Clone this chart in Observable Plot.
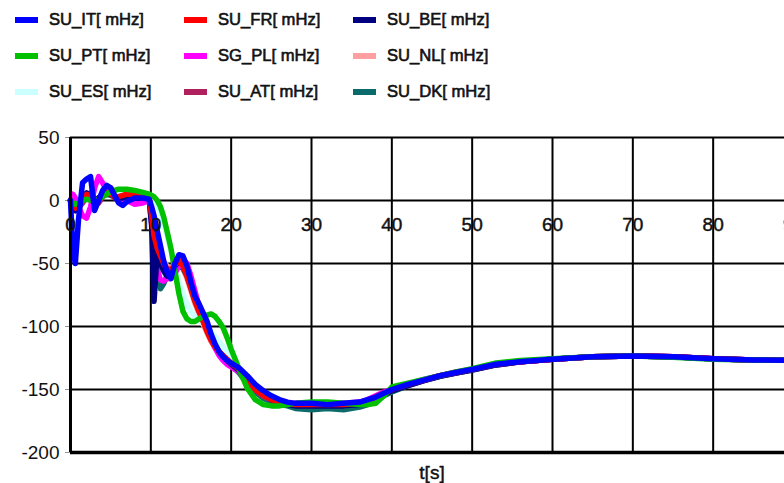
<!DOCTYPE html>
<html><head><meta charset="utf-8">
<script src="https://cdn.jsdelivr.net/npm/d3@7"></script>
<script src="https://cdn.jsdelivr.net/npm/@observablehq/plot@0.6"></script>
<style>
html,body{margin:0;padding:0;background:#fff;overflow:hidden;width:784px;height:483px;}
#legend{position:relative;height:118px;font-family:"Liberation Sans",Arial,sans-serif;font-size:16.6px;color:#111;-webkit-text-stroke:0.6px #111;}
.item{position:absolute;white-space:nowrap;line-height:20px;}
.sw{position:absolute;width:23px;height:6px;}
#chart svg{display:block;max-width:none;}
</style></head><body>
<div id="legend"></div><div id="chart"></div>
<script>
// ---------- data ----------
const time = [0,0.3,0.6,1,1.5,2,2.5,3,3.5,4,4.5,5,5.5,6,6.5,7,8,9,9.8,
  10.1,10.4,10.8,11.2,11.6,12,12.5,13,13.5,14,14.5,15,15.5,16,16.5,17,17.5,18,18.5,19,19.5,20,
  21,22,23,24,25,26,27,28,30,32,34,36,37,38,39,40,
  42,44,46,48,50,53,56,60,65,70,75,80,85,90];

const SU_IT = [0,-40,-50,-15,14,17,19,-8,0,8,12,10,4,-2,-4,-1,2,2,1,
  -5,-12,-24,-36,-48,-56,-62,-50,-43,-44,-52,-65,-76,-82,-89,-96,-106,-114,-120,-124,-127,-129,
  -133,-139,-146,-151,-155,-158,-160,-161,-161,-162,-161,-160,-158,-156,-153,-150,
  -146,-142.5,-139,-136.5,-134,-130,-128,-126,-124,-123.5,-124,-125.5,-126.5,-127];
const SU_FR = [0,-3,-6,-3,2,5,3,-1,1,4,6,5,3,3,4,5,5,4,2,
  -12,-28,-38,-44,-50,-54,-55,-51,-48,-52,-60,-70,-80,-88,-96,-104,-111,-116,-120,-123,-126,-129,
  -134,-142,-150,-155,-158,-160,-161,-162,-162,-162,-162,-161,-159,-156,-153,-150,
  -146,-142.5,-139,-136.5,-134,-130,-128,-126,-124,-123.5,-124,-125.5,-126.5,-127];
const SU_BE = [0,-5,-8,-4,3,6,4,0,2,5,6,5,3,2,2,3,4,3,1,
  -20,-80,-40,-50,-56,-60,-58,-52,-48,-50,-58,-68,-78,-86,-94,-102,-109,-115,-120,-124,-127,-130,
  -135,-142,-149,-154,-158,-160,-162,-163,-163,-163,-163,-162,-160,-157,-154,-151,
  -147,-143,-139.5,-137,-134.5,-130.5,-128,-126,-124,-123.5,-124,-125.5,-126.5,-127];
const SU_PT = [0,-2,-3,-2,0,1,0,-1,1,3,5,7,8,9,9,9,8,6.5,5,
  4,3,0,-5,-13,-24,-38,-56,-74,-88,-94,-96,-96,-94,-92,-91,-90,-92,-96,-101,-109,-118,
  -134,-149,-158,-162,-163,-163,-162,-161,-160,-160,-161,-162,-162,-161,-155,-148,
  -145,-142,-139,-136,-133.5,-129,-127,-125.5,-124,-123.5,-124.5,-126,-126.5,-127];
const SG_PL = [0,5,2,-5,-12,-14,-5,10,19,14,8,10,4,0,-2,0,-3,-2,0,
  -18,-40,-55,-63,-64,-62,-62,-58,-52,-47,-50,-60,-72,-84,-93,-102,-110,-117,-123,-127,-130,-132,
  -136,-143,-150,-155,-158,-160,-161,-161,-161,-161,-161,-160,-158,-155,-152,-150,
  -146,-142,-139,-136,-134,-130,-128,-126,-124,-123.5,-124,-125.5,-126.5,-127];
const SU_NL = [0,-2,-4,-2,2,4,2,0,2,4,5,4,3,3,3,4,4,3,2,
  -8,-22,-34,-42,-48,-52,-54,-52,-50,-54,-62,-72,-82,-90,-98,-105,-112,-117,-121,-124,-127,-130,
  -134,-142,-150,-155,-158,-160,-161,-162,-162,-162,-162,-161,-159,-156,-153,-150,
  -146,-142.5,-139,-136.5,-134,-130,-128,-126,-124,-123.5,-124,-125.5,-126.5,-127];
const SU_ES = [0,-2,-4,-2,1,3,2,0,1,3,4,5,5,5,6,6,6,5,4,
  2,0,-4,-10,-18,-28,-40,-52,-64,-74,-82,-88,-92,-95,-98,-101,-104,-108,-112,-116,-121,-126,
  -136,-147,-155,-160,-162,-162,-162,-161,-161,-161,-162,-162,-161,-159,-154,-149,
  -145.5,-142,-139,-136,-134,-129.5,-127.5,-125.5,-124,-123.5,-124.5,-126,-126.5,-127];
const SU_AT = [0,-4,-8,-6,-2,3,6,2,-2,3,8,6,2,1,2,4,4,3,1,
  -14,-30,-42,-50,-54,-56,-56,-52,-48,-50,-58,-68,-78,-87,-95,-103,-110,-116,-120,-124,-127,-130,
  -135,-143,-150,-155,-158,-160,-161,-162,-162,-162,-162,-161,-159,-156,-153,-150,
  -146,-142.5,-139,-136.5,-134,-130,-128,-126,-124,-123.5,-124,-125.5,-126.5,-127];
const SU_DK = [0,-4,-6,-3,3,5,3,0,2,4,5,4,3,3,3,4,4,3,1,
  -10,-35,-55,-70,-66,-60,-58,-55,-52,-54,-60,-70,-80,-88,-95,-103,-110,-116,-121,-125,-128,-131,
  -137,-145,-152,-157,-160,-162,-163,-165,-166,-165,-166,-164,-162,-159,-155,-152,
  -147,-143,-139.5,-137,-134.5,-130.5,-128,-126,-124,-123.5,-124,-125.5,-126.5,-127];

// legend order (row-major) and colours
const legendNames = ["SU_IT[ mHz]","SU_FR[ mHz]","SU_BE[ mHz]","SU_PT[ mHz]","SG_PL[ mHz]","SU_NL[ mHz]","SU_ES[ mHz]","SU_AT[ mHz]","SU_DK[ mHz]"];
const legendColors = ["#0000ff","#ff0000","#000080","#00c000","#ff00ff","#ff9f9f","#ccffff","#b0205e","#0b6b6b"];
const seriesValues = {"SU_IT[ mHz]":SU_IT,"SU_FR[ mHz]":SU_FR,"SU_BE[ mHz]":SU_BE,"SU_PT[ mHz]":SU_PT,"SG_PL[ mHz]":SG_PL,"SU_NL[ mHz]":SU_NL,"SU_ES[ mHz]":SU_ES,"SU_AT[ mHz]":SU_AT,"SU_DK[ mHz]":SU_DK};
// drawing order, bottom to top
const drawOrder = ["SU_NL[ mHz]","SU_ES[ mHz]","SU_AT[ mHz]","SU_DK[ mHz]","SG_PL[ mHz]","SU_BE[ mHz]","SU_FR[ mHz]","SU_PT[ mHz]","SU_IT[ mHz]"];

const xTicks = [0,10,20,30,40,50,60,70,80,90];
const yTicks = [50,0,-50,-100,-150,-200];
const xLabel = "t[s]";

// ---------- legend ----------
const legend = document.getElementById("legend");
const colX = [49,218,387];
legendNames.forEach((name,i)=>{
  const col = i%3, row = Math.floor(i/3);
  const cy = 19.5 + 36*row;
  const sw = document.createElement("div");
  sw.className = "sw";
  sw.style.left = (colX[col]-34)+"px";
  sw.style.top = (cy-3)+"px";
  sw.style.background = legendColors[i];
  legend.appendChild(sw);
  const t = document.createElement("div");
  t.className = "item";
  t.style.left = colX[col]+"px";
  t.style.top = (cy-9.5)+"px";
  t.textContent = name;
  legend.appendChild(t);
});

// ---------- chart ----------
const rows = [];
for (const s of drawOrder) {
  seriesValues[s].forEach((v,i)=>rows.push({t: time[i], v, s}));
}

const txt = {fill: "#111", stroke: "#111", strokeWidth: 0.45};
const chart = Plot.plot({
  width: 794, height: 365,
  marginLeft: 70, marginRight: 1, marginTop: 19, marginBottom: 31,
  style: {fontFamily: "Liberation Sans, Arial, sans-serif", fontSize: "19px", color: "#111", background: "#fff", maxWidth: "none"},
  x: {domain: [0, 90], axis: null},
  y: {domain: [-200, 50], axis: null},
  color: {domain: legendNames, range: legendColors},
  marks: [
    Plot.ruleY(yTicks.filter(d => d > -200), {stroke: "#000", strokeWidth: 2}),
    Plot.ruleX(xTicks.filter(d => d > 0), {y1: -200, y2: 50, stroke: "#000", strokeWidth: 2}),
    Plot.line(rows, {x: "t", y: "v", z: "s", stroke: "s", strokeWidth: 5.5, strokeLinejoin: "round", strokeLinecap: "round"}),
    Plot.ruleY([-200], {stroke: "#000", strokeWidth: 3.5}),
    Plot.ruleX([0], {y1: -200, y2: 50, stroke: "#000", strokeWidth: 3}),
    Plot.axisY({ticks: yTicks, tickSize: 5, tickPadding: 6, strokeWidth: 2, tickFormat: d => String(d), label: null, fontSize: 19, ...txt}),
    Plot.text(xTicks, {x: d => d, y: 0, dy: 24, text: d => String(d), fontSize: 19, ...txt}),
    Plot.text([xLabel], {frameAnchor: "bottom", lineAnchor: "middle", dy: 20, text: d => d, fontSize: 19, ...txt})
  ]
});
document.getElementById("chart").appendChild(chart);
</script></body></html>
